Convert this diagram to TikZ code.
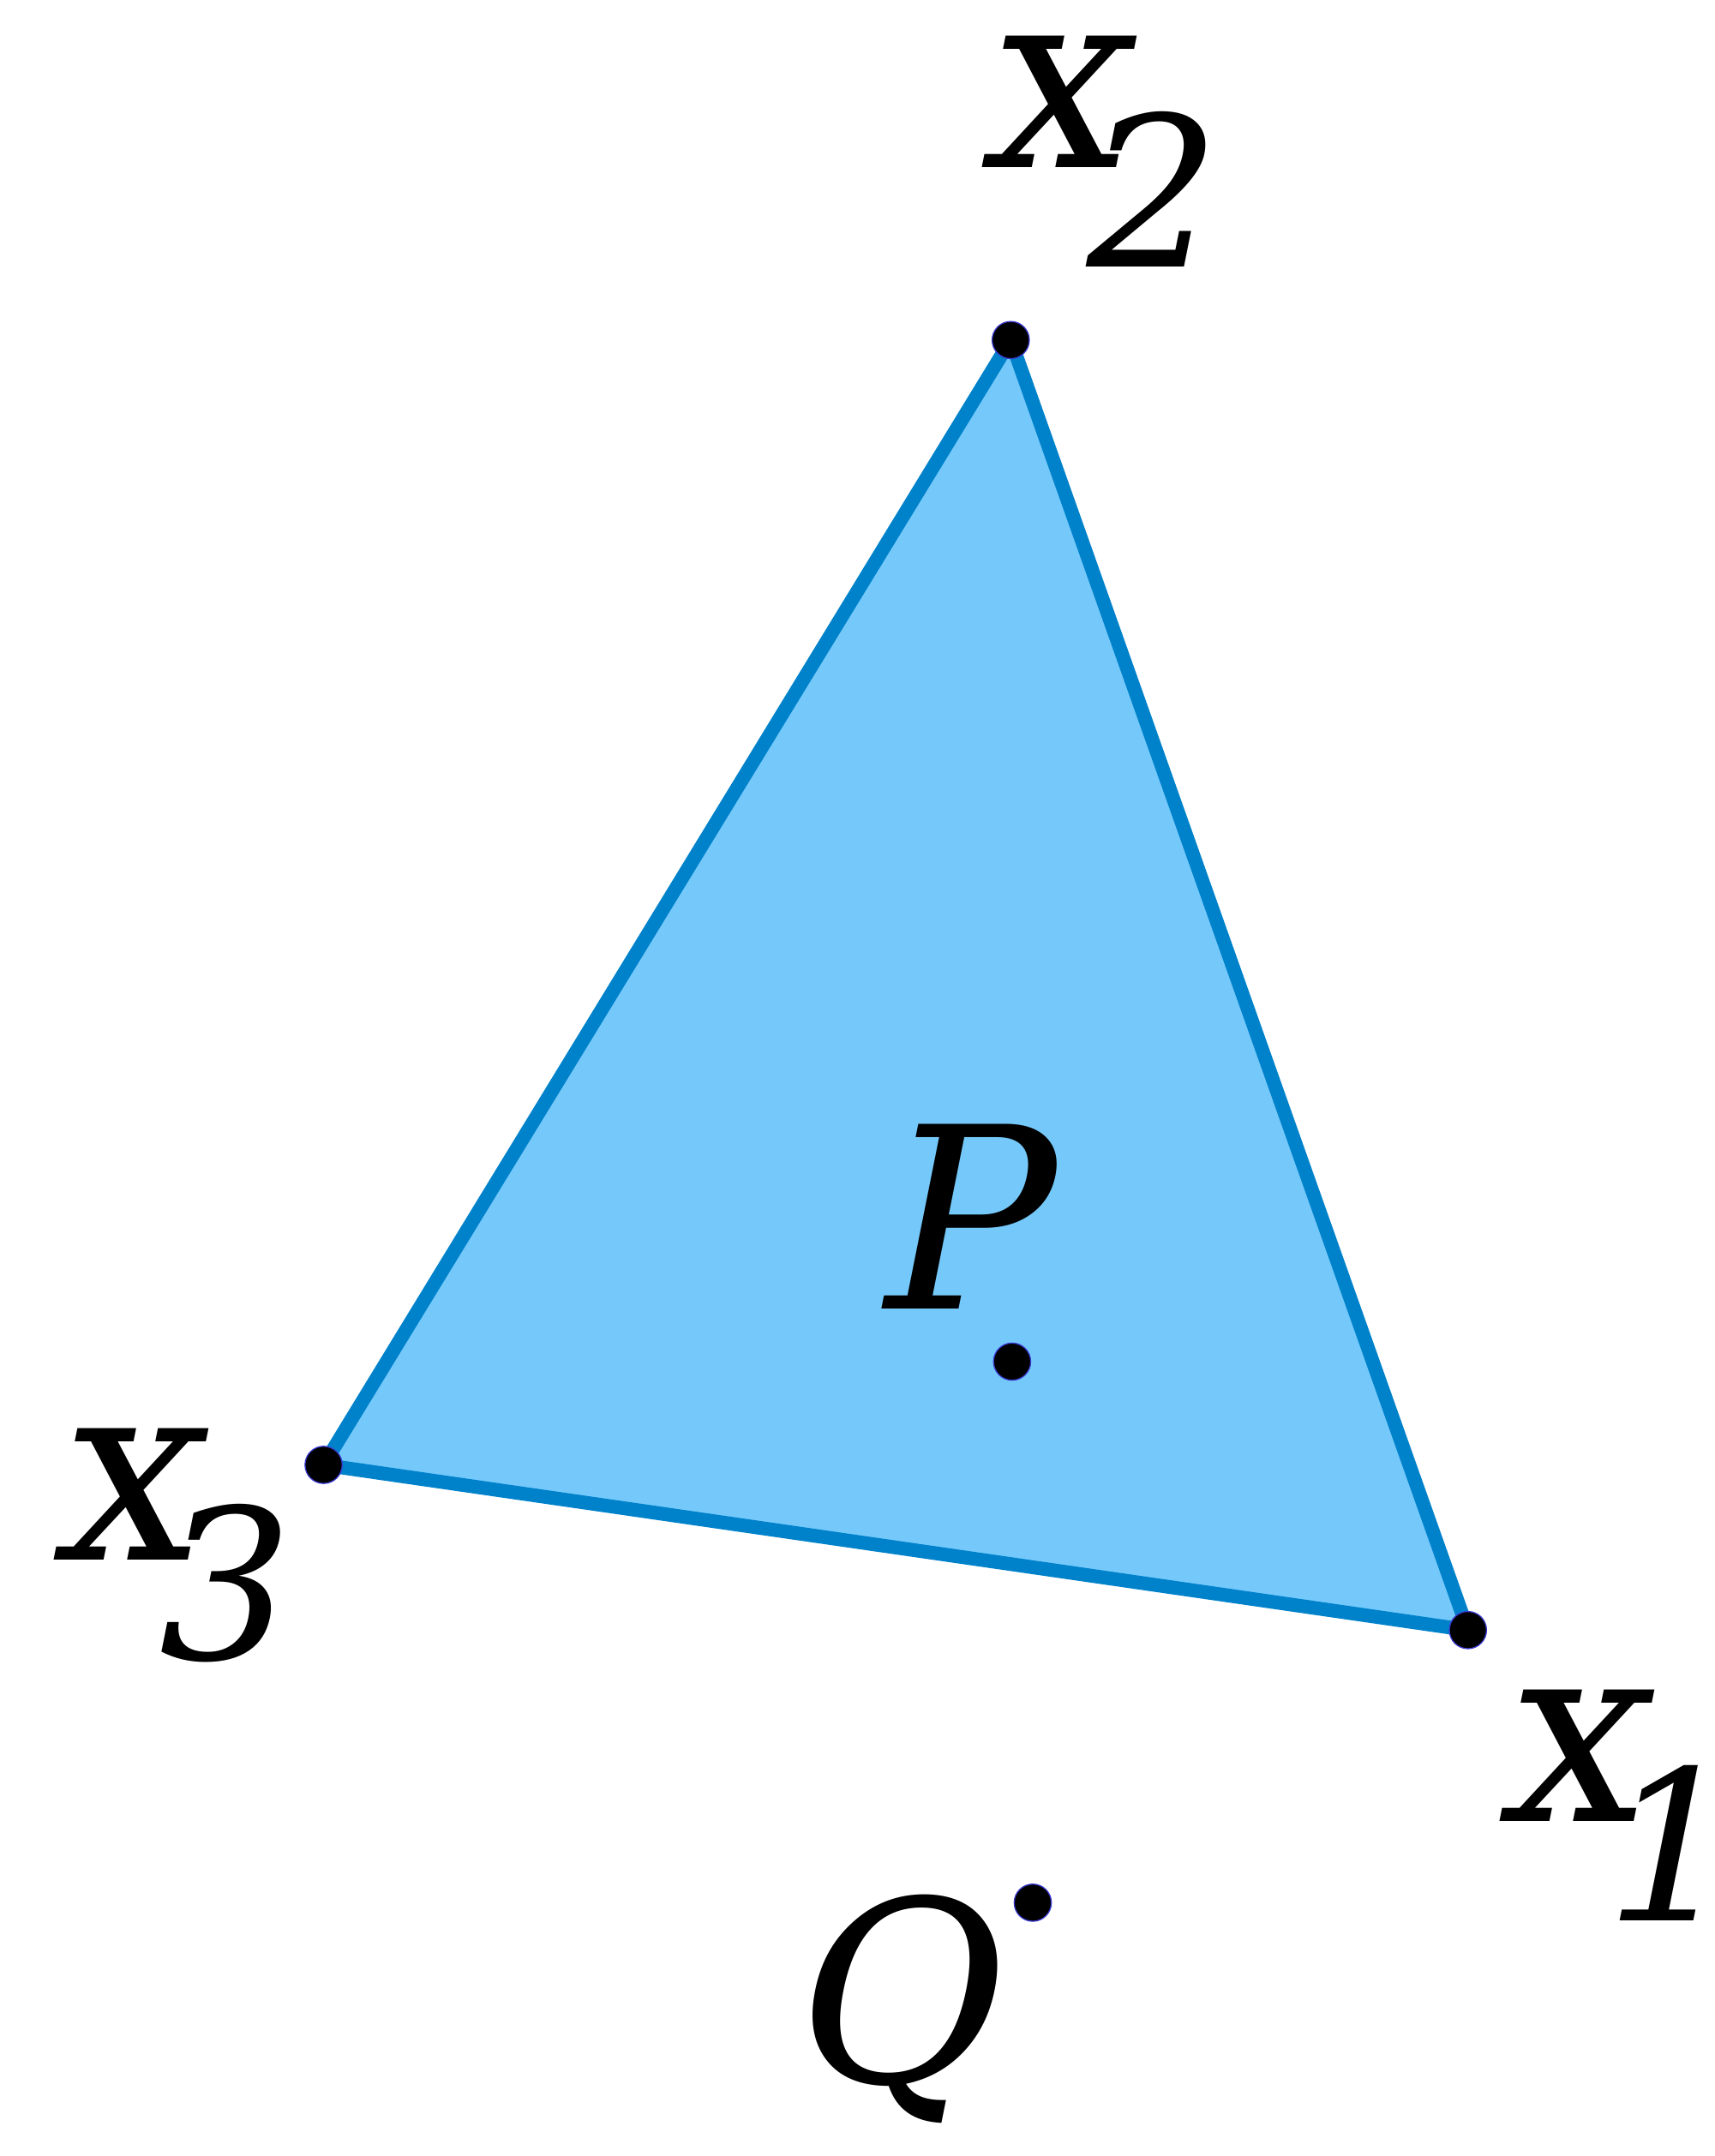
\documentclass[tikz,border=0pt]{standalone}
\usepackage{fontspec}
\setmainfont{DejaVu Serif}
\newfontfamily\slantserif[FakeSlant=0.2]{DejaVu Serif}
\definecolor{trifill}{HTML}{75C9FA}
\definecolor{triedge}{HTML}{0082CB}
\definecolor{dotrim}{HTML}{3A3AD0}
\newsavebox\xwidthbox
\newcommand\vlabel[2]{\sbox\xwidthbox{\slantserif x}%
  \rlap{\slantserif x}\kern\dimexpr\wd\xwidthbox-17pt+#2\relax
  \raisebox{-36pt}{\fontsize{76}{76}\selectfont\slantserif #1}}
\begin{document}
\begin{tikzpicture}[x=0.5pt,y=-0.5pt,
  ptdot/.style={circle,fill=black,draw=dotrim,line width=0.4pt,minimum size=13.5pt,inner sep=0pt},
  lbl/.style={inner sep=0pt,anchor=base west,font=\fontsize{92}{92}\selectfont\slantserif},
  triedgestyle/.style={draw=triedge,line width=5pt,line join=round}]
\useasboundingbox (0,0) rectangle (1245,1566);
\coordinate (X1) at (1066,1184);
\coordinate (X2) at (734,247);
\coordinate (X3) at (235,1064);
\fill[trifill] (X1) -- (X2) -- (X3) -- cycle;
\draw[triedgestyle] (X1) -- (X2) -- (X3) -- cycle;
\node[ptdot] (d1) at (X1) {};
\node[ptdot] (d2) at (X2) {};
\node[ptdot] (d3) at (X3) {};
\node[ptdot] (dP) at (735,989) {};
\node[ptdot] (dQ) at (750,1382) {};
\node[lbl] (l2) at (709,122) {\vlabel{2}{-0.5pt}};
\node[lbl] (l1) at (1085,1323) {\vlabel{1}{0pt}};
\node[lbl] (l3) at (35,1133) {\vlabel{3}{0pt}};
\node[lbl] (lP) at (630,951) {P};
\node[lbl] (lQ) at (568,1513) {Q};
\end{tikzpicture}
\end{document}
